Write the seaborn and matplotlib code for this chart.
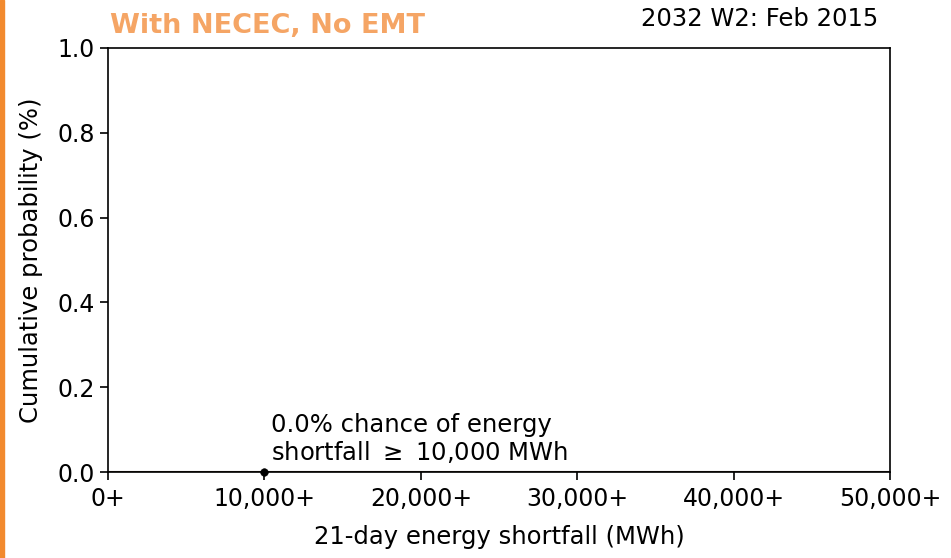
import numpy as np
import pandas as pd
import matplotlib
matplotlib.use("Agg")
import matplotlib.pyplot as plt
import seaborn as sns
from matplotlib.patches import Rectangle

# data
shortfall_mwh = [0, 10000, 20000, 30000, 40000, 50000]
cum_prob = [0.0, 0.0, 0.0, 0.0, 0.0, 0.0]
tick_vals = [0, 10000, 20000, 30000, 40000, 50000]
tick_labels = ["0+", "10,000+", "20,000+", "30,000+", "40,000+", "50,000+"]
threshold_x = [10000]
threshold_y = [0.0]
chance_pct = 0.0

sns.set_theme(style="ticks")
plt.rcParams['font.family'] = ['DejaVu Sans']
plt.rcParams['text.color'] = 'black'
plt.rcParams['axes.labelcolor'] = 'black'
plt.rcParams['xtick.color'] = 'black'
plt.rcParams['ytick.color'] = 'black'

fig = plt.figure(figsize=(9.51, 5.58), dpi=100)
ax = fig.add_axes([0.1136, 0.154, 0.8223, 0.760])

df = pd.DataFrame({"x": shortfall_mwh, "y": cum_prob})
sns.lineplot(data=df, x="x", y="y", ax=ax, color="#3a2a1a", linewidth=1.5)
sns.scatterplot(x=threshold_x, y=threshold_y, ax=ax, color="black", s=30,
                edgecolor="black", zorder=5, clip_on=False)

ax.annotate(f"{chance_pct:.1f}% chance of energy\nshortfall $\\geq$ 10,000 MWh",
            xy=(threshold_x[0], threshold_y[0]), xytext=(5, 5),
            textcoords="offset points", ha="left", va="bottom", fontsize=17.5,
            linespacing=1.1)

ax.set_xlim(0, 50000)
ax.set_ylim(0, 1.0)
ax.set_xticks(tick_vals)
ax.set_xticklabels(tick_labels)
ax.set_yticks(np.arange(0, 1.01, 0.2))
ax.set_yticklabels([f"{v:.1f}" for v in np.arange(0, 1.01, 0.2)])
ax.tick_params(labelsize=17, length=6, width=1.2, color="black")
ax.tick_params(axis="x", pad=5)
for s in ax.spines.values():
    s.set_color("black")
    s.set_linewidth(1.2)

ax.set_xlabel("21-day energy shortfall (MWh)", fontsize=17.5, labelpad=10)
ax.set_ylabel("Cumulative probability (%)", fontsize=17.5, labelpad=10)

fig.text(0.1157, 0.940, "With NECEC, No EMT", fontsize=19.5, fontweight="bold",
         color="#F5A565", ha="left", va="baseline")
fig.text(0.924, 0.954, "2032 W2: Feb 2015", fontsize=17.5, ha="right",
         va="baseline")

# orange frame edge on the left
fig.patches.append(Rectangle((0, 0), 0.004, 1, transform=fig.transFigure,
                             color="#F28A2E", zorder=10))

fig.savefig("out.png", dpi=100)
